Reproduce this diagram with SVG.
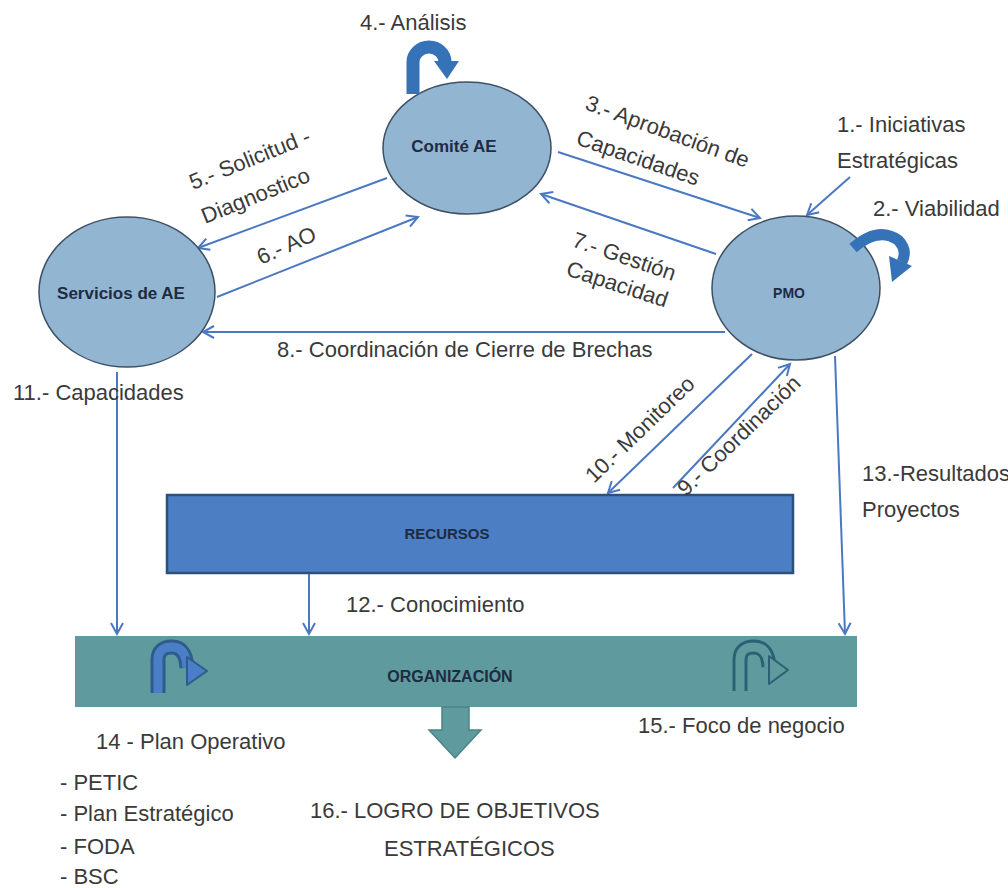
<svg xmlns="http://www.w3.org/2000/svg" width="1008" height="888" viewBox="0 0 1008 888">
<style>
.lbl{font-family:"Liberation Sans",Arial,sans-serif;font-size:22px;fill:#3a3a3a}
.node{font-family:"Liberation Sans",Arial,sans-serif;font-weight:bold;fill:#1d2c42;text-anchor:middle}
.ell{fill:#92b5d2;stroke:#3d5064;stroke-width:1.5}
.con{stroke:#4a78c2;stroke-width:2;fill:none}
</style>
<defs>
<marker id="ah" markerWidth="16" markerHeight="16" refX="13" refY="8" orient="auto" markerUnits="userSpaceOnUse">
<path d="M2,2 L13,8 L2,14" fill="none" stroke="#4a78c2" stroke-width="2"/>
</marker>
</defs>
<rect width="1008" height="888" fill="#ffffff"/>

<g id="connectors">
<line class="con" x1="558" y1="152" x2="760" y2="218" marker-end="url(#ah)"/>
<line class="con" x1="716" y1="254" x2="541" y2="194" marker-end="url(#ah)"/>
<line class="con" x1="387" y1="178" x2="198" y2="248" marker-end="url(#ah)"/>
<line class="con" x1="217" y1="297" x2="418" y2="217" marker-end="url(#ah)"/>
<line class="con" x1="725" y1="332" x2="203" y2="332" marker-end="url(#ah)"/>
<line class="con" x1="752" y1="354" x2="608" y2="493" marker-end="url(#ah)"/>
<line class="con" x1="673" y1="488" x2="790" y2="364" marker-end="url(#ah)"/>
<line class="con" x1="850" y1="177" x2="807" y2="215" marker-end="url(#ah)"/>
<line class="con" x1="117" y1="372" x2="117" y2="634" marker-end="url(#ah)"/>
<line class="con" x1="309" y1="574" x2="309" y2="634" marker-end="url(#ah)"/>
<line class="con" x1="835" y1="356" x2="845" y2="634" marker-end="url(#ah)"/>
</g>

<g id="comite">
<ellipse class="ell" cx="467" cy="148" rx="84" ry="66"/>
<text class="node" x="454" y="152" font-size="17">Comité AE</text>
<path d="M413,94 V62 A16,15 0 0 1 445,62" fill="none" stroke="#3572b8" stroke-width="13"/>
<polygon points="434,61 459,61 447,79" fill="#3572b8"/>
</g>

<g id="servicios">
<ellipse class="ell" cx="127" cy="292" rx="88" ry="75"/>
<text class="node" x="121" y="299" font-size="17">Servicios de AE</text>
</g>

<g id="pmo">
<ellipse class="ell" cx="796" cy="288" rx="84" ry="72"/>
<text class="node" x="789" y="298" font-size="14">PMO</text>
<path d="M853,248 Q878,226 898,240 Q908,250 902,262" fill="none" stroke="#3572b8" stroke-width="11"/>
<polygon points="889,256 912,266 892,282" fill="#3572b8"/>
</g>

<g id="recursos">
<rect x="167" y="495" width="626" height="78" fill="#4b7ec3" stroke="#2d4f7c" stroke-width="2.5"/>
<text class="node" x="447" y="539" font-size="15">RECURSOS</text>
</g>

<g id="organizacion">
<rect x="75" y="636" width="782" height="71" fill="#5e9a9e"/>
<text class="node" x="450" y="682" font-size="16" fill="#1b3a3e">ORGANIZACIÓN</text>
<path d="M158,693 V660 Q158,647 172,647 Q186,647 187,668" fill="none" stroke="#2e5c8c" stroke-width="15"/>
<path d="M158,693 V660 Q158,647 172,647 Q186,647 187,668" fill="none" stroke="#4a7ec6" stroke-width="9"/>
<polygon points="187,657 187,685 207,671" fill="#4a7ec6" stroke="#2e5c8c" stroke-width="2" stroke-linejoin="round"/>
<path d="M740,691 V660 Q740,647 754,647 Q768,647 769,667" fill="none" stroke="#2c6074" stroke-width="15"/>
<path d="M740,691 V660 Q740,647 754,647 Q768,647 769,667" fill="none" stroke="#5e9a9e" stroke-width="9"/>
<polygon points="769,656 769,684 788,670" fill="#5e9a9e" stroke="#2c6074" stroke-width="2" stroke-linejoin="round"/>
</g>

<g id="logro-arrow">
<polygon points="442,707 469,707 469,730 481,730 455,758 429,730 442,730" fill="#5e9a9e" stroke="#4a8488" stroke-width="1.5"/>
</g>

<g id="labels">
<text class="lbl" x="360" y="30">4.- Análisis</text>
<text class="lbl" x="837" y="132">1.- Iniciativas</text>
<text class="lbl" x="837" y="168">Estratégicas</text>
<text class="lbl" x="873" y="216">2.- Viabilidad</text>
<text class="lbl" transform="translate(584,109) rotate(20)">3.- Aprobación de</text>
<text class="lbl" transform="translate(575,144) rotate(19)">Capacidades</text>
<text class="lbl" transform="translate(571,246) rotate(19)">7.- Gestión</text>
<text class="lbl" transform="translate(565,275) rotate(18)">Capacidad</text>
<text class="lbl" transform="translate(193,190) rotate(-22)">5.- Solicitud -</text>
<text class="lbl" transform="translate(205,224) rotate(-22)">Diagnostico</text>
<text class="lbl" transform="translate(261,265) rotate(-24)">6.- AO</text>
<text class="lbl" x="277" y="357">8.- Coordinación de Cierre de Brechas</text>
<text class="lbl" x="13" y="400">11.- Capacidades</text>
<text class="lbl" transform="translate(594,484) rotate(-44)">10.- Monitoreo</text>
<text class="lbl" transform="translate(686,497) rotate(-44)">9.- Coordinación</text>
<text class="lbl" x="862" y="481">13.-Resultados</text>
<text class="lbl" x="862" y="517">Proyectos</text>
<text class="lbl" x="346" y="612">12.- Conocimiento</text>
<text class="lbl" x="96" y="749">14 - Plan Operativo</text>
<text class="lbl" x="638" y="733">15.- Foco de  negocio</text>
<text class="lbl" x="60" y="790">- PETIC</text>
<text class="lbl" x="60" y="821">- Plan Estratégico</text>
<text class="lbl" x="60" y="854">- FODA</text>
<text class="lbl" x="60" y="884">- BSC</text>
<text class="lbl" x="310" y="818">16.- LOGRO DE OBJETIVOS</text>
<text class="lbl" x="384" y="856">ESTRATÉGICOS</text>
</g>
</svg>
